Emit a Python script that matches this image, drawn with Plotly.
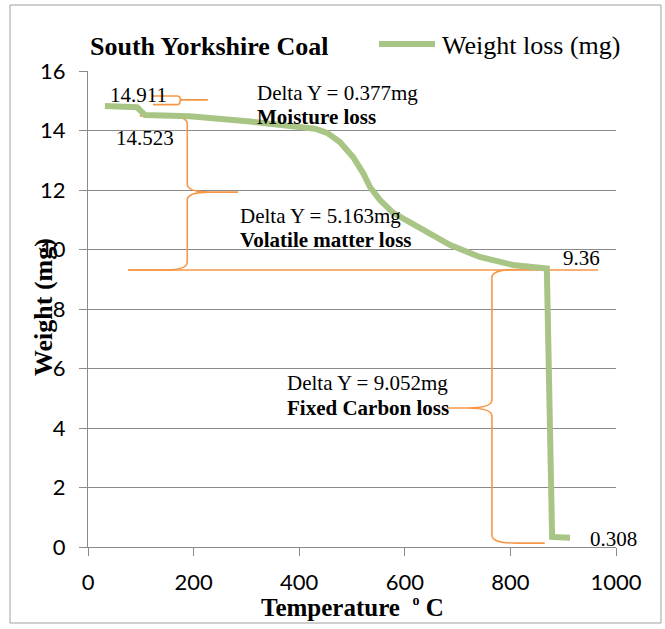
import plotly.graph_objects as go

# ---------------- data ----------------
temperature = [32, 93, 108, 193, 307, 402, 430, 453, 477, 502, 521, 534, 553, 578, 610, 648, 686, 742, 805, 869, 879, 913]
weight_loss = [14.82, 14.78, 14.52, 14.48, 14.30, 14.15, 14.06, 13.92, 13.61, 13.11, 12.57, 12.10, 11.66, 11.23, 10.90, 10.55, 10.15, 9.75, 9.48, 9.36, 0.34, 0.31]

x_ticks = [0, 200, 400, 600, 800, 1000]
y_ticks = [0, 2, 4, 6, 8, 10, 12, 14, 16]

value_labels = ["14.911", "14.523", "9.36", "0.308"]
delta_labels = ["Delta Y = 0.377mg", "Delta Y = 5.163mg", "Delta Y = 9.052mg"]
stage_labels = ["Moisture loss", "Volatile matter loss", "Fixed Carbon loss"]

# ---------------- layout geometry ----------------
W, H = 665, 629
ML, MR, MT, MB = 88, 49, 71, 82
PW, PH = W - ML - MR, H - MT - MB
XR, YR = [0, 1000], [0, 16]
xpp = (XR[1] - XR[0]) / PW   # data units per pixel
ypp = (YR[1] - YR[0]) / PH

GREEN = "#A9C586"
ORANGE = "#F79646"
GRID = "#8A8A8A"
SERIF = "Liberation Serif, Times New Roman, serif"
SANS = "Lato, Carlito, Calibri, sans-serif"


def px2paper_x(px):
    return (px - ML) / PW


def px2paper_y(py):
    return (H - MB - py) / PH


def brace(x_end_top, x_end_bot, x_spine, x_tip, y_top, y_mid, y_bot, rpx, rpy):
    rx, ry = rpx * xpp, rpy * ypp
    d = 1 if x_tip > x_spine else -1
    p = f"M {x_end_top},{y_top} L {x_spine - d*rx},{y_top} Q {x_spine},{y_top} {x_spine},{y_top - ry} "
    p += f"L {x_spine},{y_mid + ry} Q {x_spine},{y_mid} {x_spine + d*rx},{y_mid} L {x_tip},{y_mid} "
    p += f"M {x_spine + d*rx},{y_mid} Q {x_spine},{y_mid} {x_spine},{y_mid - ry} "
    p += f"L {x_spine},{y_bot + ry} Q {x_spine},{y_bot} {x_spine - d*rx},{y_bot} L {x_end_bot},{y_bot}"
    return p


fig = go.Figure()
fig.add_trace(go.Scatter(
    x=temperature, y=weight_loss, mode="lines", name="Weight loss (mg)",
    line=dict(color=GREEN, width=6), showlegend=False, hoverinfo="x+y",
))

shapes = []
# braces (annotation drawings)
brace_specs = [
    # x_end_top, x_end_bot, x_spine, x_tip, y_top, y_mid, y_bot, rpx, rpy
    (123, 123, 174, 227, 15.16, 15.03, 14.87, 3, 2),
    (98, 76, 188, 284, 14.49, 11.93, 9.31, 22, 8),
    (869, 865, 765, 680, 9.33, 4.67, 0.13, 25, 8),
]
for s in brace_specs:
    shapes.append(dict(type="path", xref="x", yref="y", path=brace(*s),
                       line=dict(color=ORANGE, width=1.6), layer="between"))
# long horizontal marker line at the end of volatile stage
shapes.append(dict(type="line", xref="x", yref="y", x0=76, x1=966, y0=9.31, y1=9.31,
                   line=dict(color=ORANGE, width=1.6), layer="between"))
# manual legend line
shapes.append(dict(type="line", xref="paper", yref="paper",
                   x0=px2paper_x(379), x1=px2paper_x(435), y0=px2paper_y(44), y1=px2paper_y(44),
                   line=dict(color=GREEN, width=6)))
# chart border
shapes.append(dict(type="rect", xref="paper", yref="paper",
                   x0=px2paper_x(10), x1=px2paper_x(661), y0=px2paper_y(623), y1=px2paper_y(5),
                   line=dict(color="#A0A0A0", width=1), fillcolor="rgba(0,0,0,0)"))

ann = []
tf = dict(family=SERIF, size=21, color="black")
# value labels
ann.append(dict(x=95, y=15.21, text=value_labels[0], xanchor="center", yanchor="middle"))
ann.append(dict(x=108, y=13.76, text=value_labels[1], xanchor="center", yanchor="middle"))
ann.append(dict(x=935, y=9.72, text=value_labels[2], xanchor="center", yanchor="middle"))
ann.append(dict(x=996, y=0.27, text=value_labels[3], xanchor="center", yanchor="middle"))
# stage labels
ann.append(dict(x=316, y=15.26, text=delta_labels[0], xanchor="left", yanchor="middle"))
ann.append(dict(x=316, y=14.47, text="<b>" + stage_labels[0] + "</b>", xanchor="left", yanchor="middle"))
ann.append(dict(x=284, y=11.13, text=delta_labels[1], xanchor="left", yanchor="middle"))
ann.append(dict(x=284, y=10.32, text="<b>" + stage_labels[1] + "</b>", xanchor="left", yanchor="middle"))
ann.append(dict(x=373, y=5.51, text=delta_labels[2], xanchor="left", yanchor="middle"))
ann.append(dict(x=373, y=4.67, text="<b>" + stage_labels[2] + "</b>", xanchor="left", yanchor="middle"))
for a in ann:
    a.update(xref="x", yref="y", showarrow=False, font=tf)

# title, legend text, axis titles
ann.append(dict(xref="paper", yref="paper", x=0, y=px2paper_y(47), xanchor="left", yanchor="middle",
                text="<b>South Yorkshire Coal</b>", showarrow=False,
                font=dict(family=SERIF, size=26, color="black")))
ann.append(dict(xref="paper", yref="paper", x=px2paper_x(440), y=px2paper_y(46), xanchor="left", yanchor="middle",
                text="Weight loss (mg)", showarrow=False,
                font=dict(family=SERIF, size=26, color="black")))
ann.append(dict(xref="paper", yref="paper", x=0.5, y=px2paper_y(607), xanchor="center", yanchor="middle",
                text="<b>Temperature  <sup><span style='font-size:14px'>o</span></sup> C</b>", showarrow=False,
                font=dict(family=SERIF, size=25, color="black")))
ann.append(dict(xref="paper", yref="paper", x=px2paper_x(43), y=px2paper_y(307), xanchor="center", yanchor="middle",
                text="<b>Weight (mg)</b>", showarrow=False, textangle=-90,
                font=dict(family=SERIF, size=26, color="black")))

fig.update_layout(
    width=W, height=H,
    margin=dict(l=ML, r=MR, t=MT, b=MB, pad=0),
    paper_bgcolor="white", plot_bgcolor="white",
    shapes=shapes, annotations=ann, showlegend=False,
    xaxis=dict(range=XR, tickvals=x_ticks, ticktext=[str(v) for v in x_ticks],
               showgrid=False, zeroline=False, showline=True, linecolor=GRID, linewidth=1.3,
               ticks="outside", ticklen=8, tickcolor=GRID, tickwidth=1.3,
               tickfont=dict(family=SANS, size=22, color="black"), ticklabelstandoff=7),
    yaxis=dict(range=YR, tickvals=y_ticks, ticktext=[str(v) for v in y_ticks],
               showgrid=True, gridcolor=GRID, gridwidth=1.3, zeroline=False,
               showline=True, linecolor=GRID, linewidth=1.3,
               ticks="outside", ticklen=8, tickcolor=GRID, tickwidth=1.3,
               tickfont=dict(family=SANS, size=22, color="black"), ticklabelstandoff=9),
)

fig.write_html("out.html", config={"displayModeBar": False},
               post_script="document.body.style.margin='0px';document.body.style.overflow='hidden';")
